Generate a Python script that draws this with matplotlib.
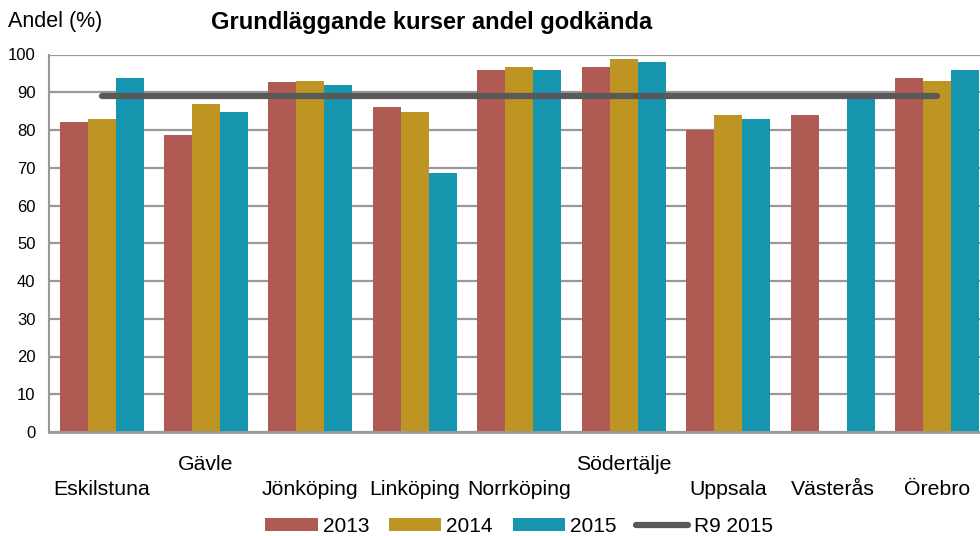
import matplotlib
matplotlib.use("Agg")
import matplotlib.pyplot as plt
import numpy as np

plt.rcParams['font.family'] = ['Liberation Sans', 'DejaVu Sans']

categories = ["Eskilstuna", "Gävle", "Jönköping", "Linköping", "Norrköping",
              "Södertälje", "Uppsala", "Västerås", "Örebro"]
upper_row = ["Gävle", "Södertälje"]
v2013 = [82.0, 78.8, 92.6, 86.0, 96.0, 96.8, 80.1, 84.1, 93.9]
v2014 = [82.8, 87.0, 92.9, 84.9, 96.8, 98.9, 83.9, np.nan, 92.9]
v2015 = [93.9, 84.9, 91.8, 68.5, 96.0, 97.9, 82.8, 89.0, 96.0]
r9_2015 = 89.0
series_names = ["2013", "2014", "2015"]
colors = ["#AF5B54", "#BE9422", "#1695AF"]
line_color = "#595959"

fig = plt.figure(figsize=(9.8, 5.36), dpi=100)
ax = fig.add_axes([49.3/980, 1-432/536, 940/980, (432-54.5)/536])

x = np.arange(len(categories))
w = 0.268
bars = []
for i, (vals, c, n) in enumerate(zip([v2013, v2014, v2015], colors, series_names)):
    b = ax.bar(x + (i-1)*w, vals, width=w, color=c, label=n, zorder=2)
    bars.append(b)
line, = ax.plot([x[0], x[-1]], [r9_2015, r9_2015], color=line_color, lw=4.5,
                solid_capstyle='round', zorder=3, label="R9 2015")

ax.set_xlim(-0.5, len(categories)-0.5)
ax.set_ylim(0, 100)
ax.set_yticks(np.arange(0, 101, 10))
ax.yaxis.grid(True, color="#999999", lw=1.6, zorder=0)
ax.set_axisbelow(True)
for s in ["top", "right"]:
    ax.spines[s].set_visible(False)
ax.spines["left"].set_color("#999999")
ax.spines["left"].set_linewidth(1.5)
ax.spines["bottom"].set_color("#999999")
ax.spines["bottom"].set_linewidth(2)
ax.tick_params(axis='y', length=0, labelsize=12, pad=10)
ax.tick_params(axis='x', length=0, labelsize=15.3, pad=16.5)
labels = [c if c in upper_row else "\n" + c for c in categories]
ax.set_xticks(x)
ax.set_xticklabels(labels, linespacing=1.38)

fig.text(432/980, 1-22/536, "Grundläggande kurser andel godkända", ha='center', va='center',
         fontsize=17, fontweight='bold')
fig.text(8/980, 1-22/536, "Andel (%)", ha='left', va='center', fontsize=15.5)

fig.legend(handles=bars + [line], labels=series_names + ["R9 2015"], loc='center',
           bbox_to_anchor=(519/980, 1-526/536), ncol=4, frameon=False, fontsize=15,
           handlelength=2.5, handletextpad=0.25, columnspacing=0.95, handleheight=0.6)

fig.savefig("out.png", dpi=100)
